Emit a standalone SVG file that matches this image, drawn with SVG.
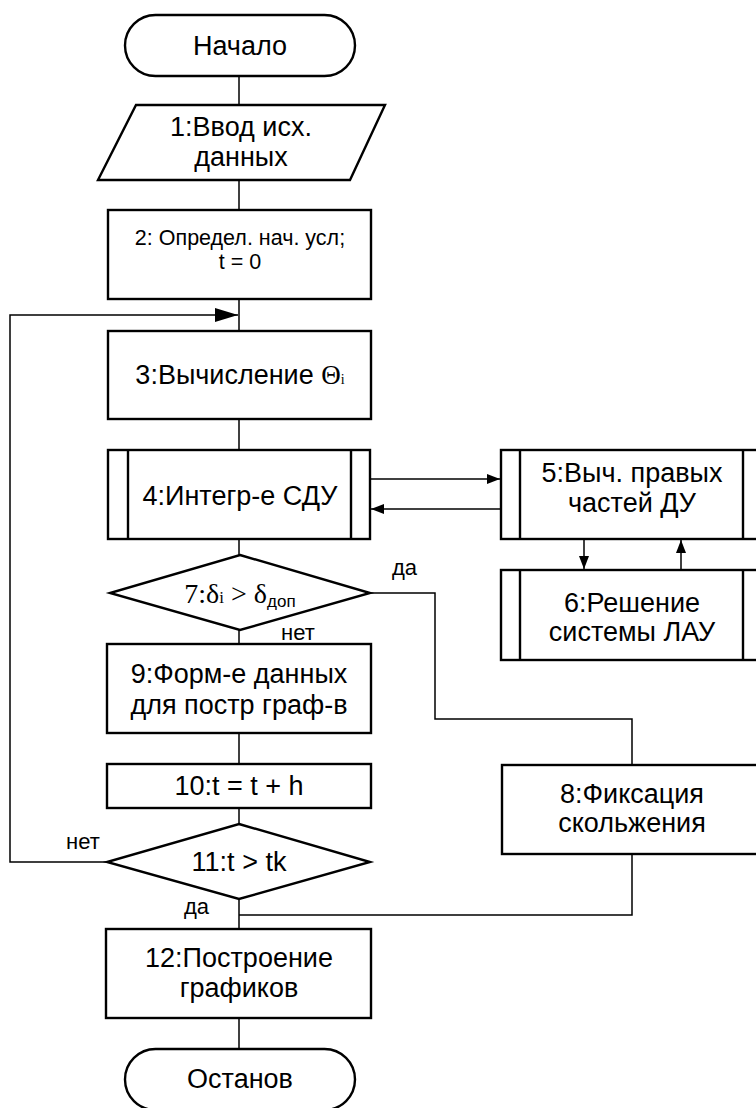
<svg xmlns="http://www.w3.org/2000/svg" width="756" height="1108" viewBox="0 0 756 1108">
<style>
.s{fill:#fff;stroke:#000;stroke-width:2.4}
.b{fill:none;stroke:#000;stroke-width:2.4}
.c{fill:none;stroke:#000;stroke-width:1.5}
.t{font-family:"Liberation Sans",Arial,sans-serif;font-size:27px;fill:#000;text-anchor:middle}
.m{font-family:"Liberation Sans",Arial,sans-serif;font-size:21.5px;fill:#000;text-anchor:middle}
.l{font-family:"Liberation Sans",Arial,sans-serif;font-size:22px;fill:#000}
.g{font-family:"Liberation Serif","Times New Roman",serif;font-size:28px;fill:#000;text-anchor:middle}
</style>
<defs>
<marker id="big" markerUnits="userSpaceOnUse" markerWidth="24" markerHeight="16" refX="23" refY="8" orient="auto"><path d="M0,1 L23,8 L0,15 Z" fill="#000"/></marker>
<marker id="sm" markerUnits="userSpaceOnUse" markerWidth="14" markerHeight="12" refX="13" refY="6" orient="auto"><path d="M0,1 L13,6 L0,11 Z" fill="#000"/></marker>
</defs>
<rect width="756" height="1108" fill="#fff"/>
<g id="connectors">
<line class="c" x1="239" y1="76" x2="239" y2="105"/>
<line class="c" x1="239" y1="180" x2="239" y2="210"/>
<line class="c" x1="239" y1="299" x2="239" y2="331"/>
<line class="c" x1="239" y1="419" x2="239" y2="450"/>
<line class="c" x1="239" y1="539" x2="239" y2="555"/>
<line class="c" x1="239" y1="630" x2="239" y2="644"/>
<line class="c" x1="239" y1="733" x2="239" y2="764"/>
<line class="c" x1="239" y1="808" x2="239" y2="824"/>
<line class="c" x1="239" y1="899" x2="239" y2="929"/>
<line class="c" x1="239" y1="1018" x2="239" y2="1049"/>
<polyline class="c" points="107,862 10,862 10,315 238,315" marker-end="url(#big)"/>
<polyline class="c" points="370,593 435,593 435,719 632,719 632,765"/>
<polyline class="c" points="632,854 632,915 239,915"/>
<line class="c" x1="370" y1="479" x2="500" y2="479" marker-end="url(#sm)"/>
<line class="c" x1="501" y1="509" x2="371" y2="509" marker-end="url(#sm)"/>
<line class="c" x1="584" y1="539" x2="584" y2="569" marker-end="url(#sm)"/>
<line class="c" x1="681" y1="570" x2="681" y2="540" marker-end="url(#sm)"/>
</g>
<g id="start">
<rect class="s" x="125" y="15" width="230" height="61" rx="30.5"/>
<text class="t" x="240" y="55">Начало</text>
</g>
<g id="n1">
<polygon class="s" points="136,105 385,105 350,180 98,180"/>
<text class="t" x="241" y="136">1:Ввод исх.</text>
<text class="t" x="241" y="166">данных</text>
</g>
<g id="n2">
<rect class="s" x="108" y="210" width="263" height="89"/>
<text class="m" x="240" y="245">2: Определ. нач. усл;</text>
<text class="m" x="240" y="269">t = 0</text>
</g>
<g id="n3">
<rect class="s" x="108" y="331" width="263" height="88"/>
<text class="t" x="240" y="384">3:Вычисление <tspan font-family="Liberation Serif,serif">Θ</tspan><tspan font-family="Liberation Serif,serif" font-size="14">i</tspan></text>
</g>
<g id="n4">
<rect class="s" x="108" y="450" width="262" height="89"/>
<line class="b" x1="128" y1="450" x2="128" y2="539"/>
<line class="b" x1="351" y1="450" x2="351" y2="539"/>
<text class="t" x="240" y="505">4:Интегр-е СДУ</text>
</g>
<g id="n5">
<rect class="s" x="501" y="450" width="262" height="89"/>
<line class="b" x1="520" y1="450" x2="520" y2="539"/>
<line class="b" x1="743" y1="450" x2="743" y2="539"/>
<text class="t" x="632" y="482">5:Выч. правых</text>
<text class="t" x="632" y="512">частей ДУ</text>
</g>
<g id="n6">
<rect class="s" x="501" y="570" width="262" height="90"/>
<line class="b" x1="520" y1="570" x2="520" y2="660"/>
<line class="b" x1="743" y1="570" x2="743" y2="660"/>
<text class="t" x="632" y="612">6:Решение</text>
<text class="t" x="632" y="641">системы ЛАУ</text>
</g>
<g id="n7">
<polygon class="s" points="240,555 370,593 240,630 110,593"/>
<text class="g" x="240" y="603">7:δ<tspan font-size="17">i</tspan> &gt; δ<tspan font-family="Liberation Sans,sans-serif" font-size="17" dy="4">доп</tspan></text>
<text class="l" x="392" y="575">да</text>
<text class="l" x="281" y="640">нет</text>
</g>
<g id="n8">
<rect class="s" x="502" y="765" width="262" height="89"/>
<text class="t" x="632" y="803">8:Фиксация</text>
<text class="t" x="632" y="832">скольжения</text>
</g>
<g id="n9">
<rect class="s" x="107" y="644" width="264" height="89"/>
<text class="t" x="239" y="683">9:Форм-е данных</text>
<text class="t" x="239" y="714">для постр граф-в</text>
</g>
<g id="n10">
<rect class="s" x="107" y="764" width="264" height="44"/>
<text class="t" x="239" y="795">10:t = t + h</text>
</g>
<g id="n11">
<polygon class="s" points="239,824 370,862 239,899 107,862"/>
<text class="t" x="239" y="871">11:t &gt; tk</text>
<text class="l" x="66" y="849">нет</text>
<text class="l" x="184" y="914">да</text>
</g>
<g id="n12">
<rect class="s" x="106" y="929" width="265" height="89"/>
<text class="t" x="239" y="967">12:Построение</text>
<text class="t" x="239" y="997">графиков</text>
</g>
<g id="stop">
<rect class="s" x="125" y="1049" width="230" height="61" rx="30.5"/>
<text class="t" x="240" y="1088">Останов</text>
</g>
</svg>
